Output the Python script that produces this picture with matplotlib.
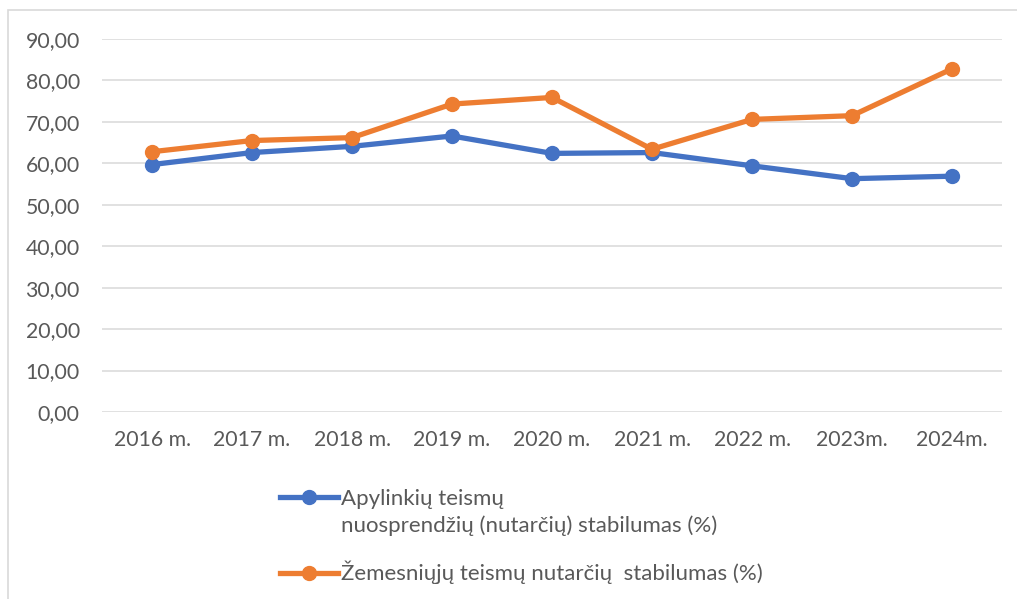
import matplotlib
matplotlib.use("Agg")
import matplotlib.pyplot as plt
from matplotlib.lines import Line2D
from matplotlib.patches import Rectangle

years = ["2016 m.", "2017 m.", "2018 m.", "2019 m.", "2020 m.", "2021 m.", "2022 m.", "2023m.", "2024m."]
apylinkiu = [59.7, 62.6, 64.1, 66.6, 62.4, 62.6, 59.4, 56.3, 56.9]
zemesniuju = [62.8, 65.5, 66.2, 74.3, 75.9, 63.4, 70.6, 71.5, 82.8]
yticks = [0, 10, 20, 30, 40, 50, 60, 70, 80, 90]

label_a1 = "Apylinkių teismų"
label_a2 = "nuosprendžių (nutarčių) stabilumas (%)"
label_b = "Žemesniųjų teismų nutarčių  stabilumas (%)"

blue = "#4472C4"
orange = "#ED7D31"
txt = "#595959"
grid = "#D9D9D9"

plt.rcParams['font.family'] = ['Lato', 'DejaVu Sans']
plt.rcParams['font.size'] = 15.3

fig = plt.figure(figsize=(10.17, 5.99), dpi=100)
ax = fig.add_axes([102/1017, 1 - 412/599, 900/1017, 373/599])

x = range(len(years))
ax.plot(x, apylinkiu, color=blue, lw=3.8, marker='o', ms=10, zorder=3)
ax.plot(x, zemesniuju, color=orange, lw=3.8, marker='o', ms=10, zorder=3)

ax.set_xlim(-0.5, len(years) - 0.5)
ax.set_ylim(0, 90)
ax.set_yticks(yticks)
ax.set_yticklabels([f"{v:.2f}".replace(".", ",") for v in yticks])
ax.set_xticks(list(x))
ax.set_xticklabels(years)
ax.tick_params(axis='both', length=0, colors=txt)
ax.tick_params(axis='y', pad=16)
ax.tick_params(axis='x', pad=13)
ax.grid(axis='y', color=grid, lw=1.1)
ax.set_axisbelow(True)
for s in ax.spines.values():
    s.set_visible(False)

# chart border (cut off at right and bottom)
fig.patches.append(Rectangle((8/1017, -0.1), 1.2, 1 - 10/599 + 0.1, transform=fig.transFigure,
                             fill=False, ec=grid, lw=1.2))

h_a = Line2D([], [], color=blue, lw=3.8, marker='o', ms=10)
h_none = Line2D([], [], color='none')
h_b = Line2D([], [], color=orange, lw=3.8, marker='o', ms=10)

leg_kw = dict(loc='upper left', frameon=False, borderpad=0, borderaxespad=0,
              handlelength=2.6, handletextpad=0.14, labelcolor=txt, fontsize=16)
leg1 = fig.legend([h_a, h_none], [label_a1, label_a2],
                  bbox_to_anchor=(280/1017, 1 - 489/599), labelspacing=0.3, **leg_kw)
leg2 = fig.legend([h_b], [label_b],
                  bbox_to_anchor=(280/1017, 1 - 561/599), **leg_kw)

fig.savefig("out.png", dpi=100)
